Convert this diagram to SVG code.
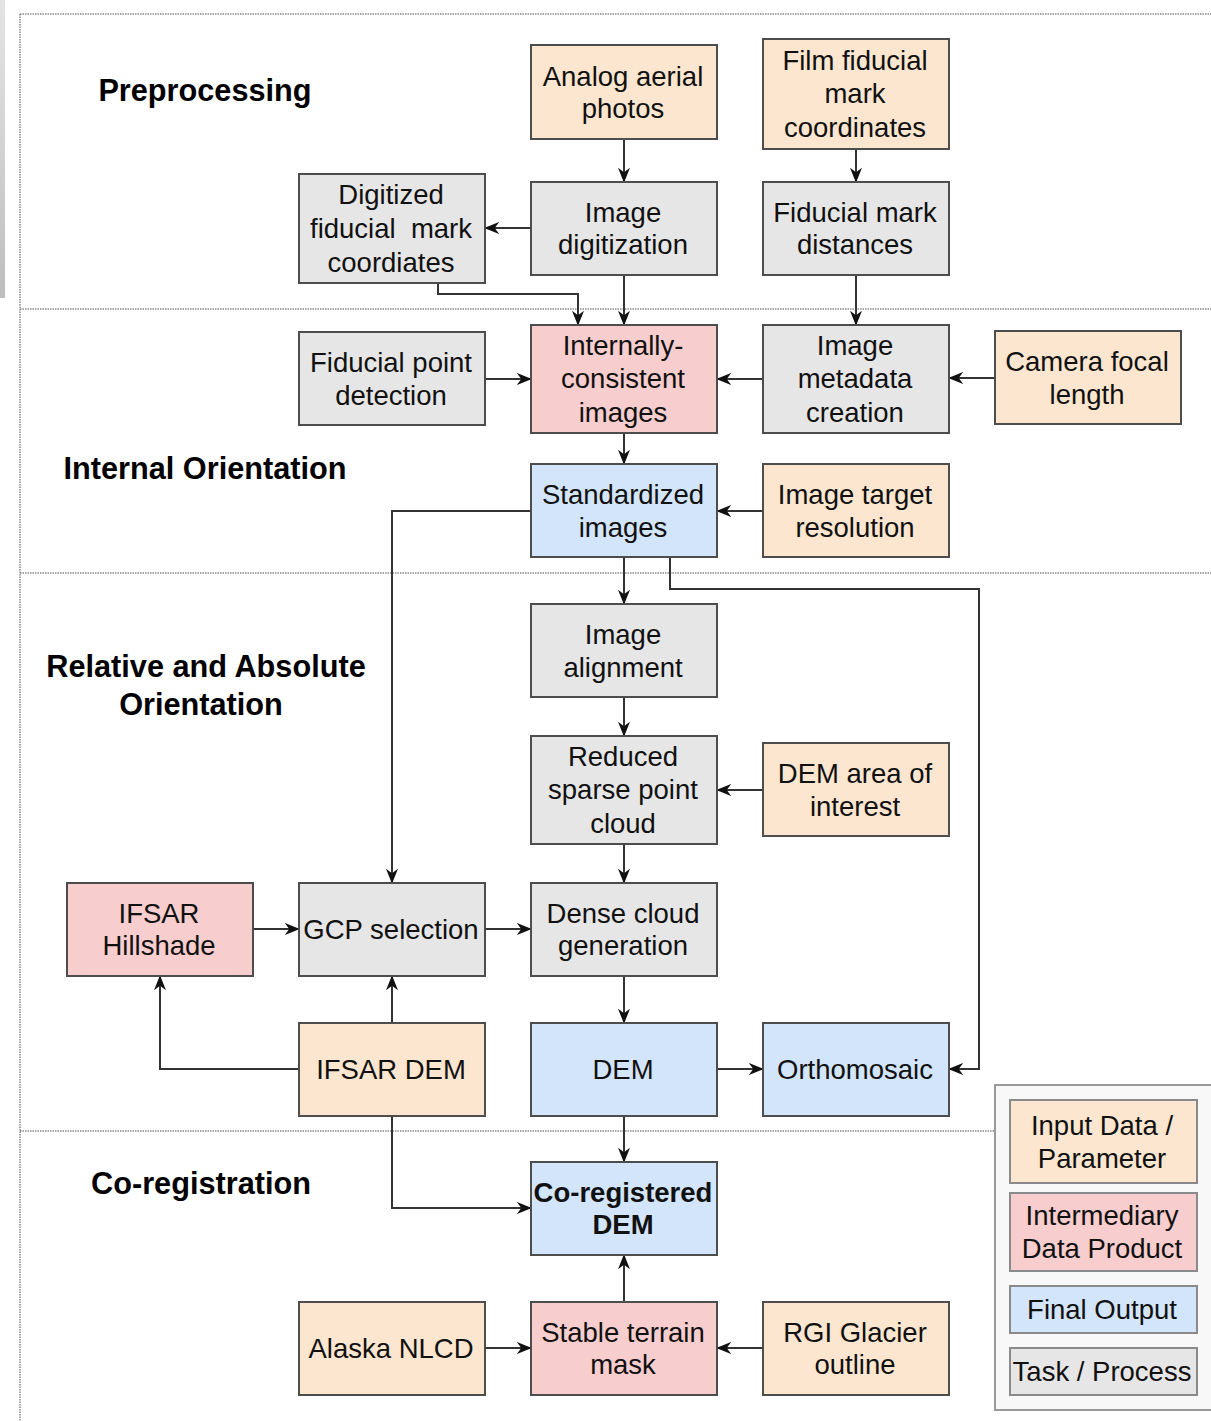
<svg xmlns="http://www.w3.org/2000/svg" width="1211" height="1421" viewBox="0 0 1211 1421">
<defs>
<marker id="arr" viewBox="0 0 10 10" refX="9.5" refY="5" markerWidth="15" markerHeight="15" markerUnits="userSpaceOnUse" orient="auto">
<path d="M0,1 L10,5 L0,9 L3,5 z" fill="#111"/>
</marker>
<linearGradient id="strip" x1="0" y1="0" x2="0" y2="1">
<stop offset="0" stop-color="#e4e4e4"/>
<stop offset="0.5" stop-color="#d2d2d2"/>
<stop offset="1" stop-color="#bdbdbd"/>
</linearGradient>
</defs>
<style>
.n{stroke:#4d4d4d;stroke-width:2}
.in{fill:#fce6cf}
.im{fill:#f8cdcd}
.fo{fill:#d3e5fb}
.tp{fill:#e6e6e6}
.t{font-family:"Liberation Sans",Arial,Helvetica,sans-serif;font-size:27.5px;fill:#111;text-anchor:middle}
.b{font-weight:bold}
.h{font-family:"Liberation Sans",Arial,Helvetica,sans-serif;font-size:30.7px;font-weight:bold;fill:#000;text-anchor:middle}
.d{stroke:#8a8a8a;stroke-width:1.5;stroke-dasharray:1.5 1;fill:none}
.c{stroke:#333;stroke-width:2;fill:none;marker-end:url(#arr)}
.lg{stroke:#8a8a8a;stroke-width:2}
</style>
<rect x="0" y="0" width="1211" height="1421" fill="#fff"/>
<rect x="0" y="0" width="5" height="298" fill="url(#strip)"/>
<g id="frame">
<path class="d" d="M20,14 H1211 M20,14 V1421 M20,309 H1211 M20,573 H1211 M20,1131 H995"/>
</g>
<g id="headings">
<text class="h" x="205" y="101">Preprocessing</text>
<text class="h" x="205" y="479">Internal Orientation</text>
<text class="h" x="206" y="677">Relative and Absolute</text>
<text class="h" x="201" y="715">Orientation</text>
<text class="h" x="201" y="1194">Co-registration</text>
</g>
<g id="connectors">
<path class="c" d="M624,139 V182"/>
<path class="c" d="M856,149 V182"/>
<path class="c" d="M531,228 H485"/>
<path class="c" d="M624,275 V325"/>
<path class="c" d="M438,283 V294 H578 V325"/>
<path class="c" d="M856,275 V325"/>
<path class="c" d="M485,379 H531"/>
<path class="c" d="M763,379 H717"/>
<path class="c" d="M995,378 H949"/>
<path class="c" d="M624,433 V464"/>
<path class="c" d="M763,511 H717"/>
<path class="c" d="M531,511 H392 V883"/>
<path class="c" d="M624,557 V604"/>
<path class="c" d="M670,557 V589 H979 V1069 H949"/>
<path class="c" d="M624,697 V736"/>
<path class="c" d="M763,790 H717"/>
<path class="c" d="M624,844 V883"/>
<path class="c" d="M253,929 H299"/>
<path class="c" d="M485,929 H531"/>
<path class="c" d="M392,1023 V976"/>
<path class="c" d="M299,1069 H160 V976"/>
<path class="c" d="M624,976 V1023"/>
<path class="c" d="M717,1069 H763"/>
<path class="c" d="M624,1116 V1162"/>
<path class="c" d="M392,1116 V1208 H531"/>
<path class="c" d="M624,1302 V1255"/>
<path class="c" d="M485,1348 H531"/>
<path class="c" d="M763,1348 H717"/>
</g>
<g id="analog-aerial-photos">
<rect class="n in" x="531" y="45" width="186" height="94"/>
<text class="t" x="623" y="85.5">Analog aerial</text>
<text class="t" x="623" y="117.5">photos</text>
</g>
<g id="film-fiducial-mark-coordinates">
<rect class="n in" x="763" y="39" width="186" height="110"/>
<text class="t" x="855" y="69.5">Film fiducial</text>
<text class="t" x="855" y="102.5">mark</text>
<text class="t" x="855" y="136.5">coordinates</text>
</g>
<g id="digitized-fiducial-mark-coordinates">
<rect class="n tp" x="299" y="174" width="186" height="109"/>
<text class="t" x="391" y="203.5">Digitized</text>
<text class="t" x="391" y="237.5" style="white-space:pre">fiducial  mark</text>
<text class="t" x="391" y="271.5">coordiates</text>
</g>
<g id="image-digitization">
<rect class="n tp" x="531" y="182" width="186" height="93"/>
<text class="t" x="623" y="221.5">Image</text>
<text class="t" x="623" y="253.5">digitization</text>
</g>
<g id="fiducial-mark-distances">
<rect class="n tp" x="763" y="182" width="186" height="93"/>
<text class="t" x="855" y="221.5">Fiducial mark</text>
<text class="t" x="855" y="253.5">distances</text>
</g>
<g id="fiducial-point-detection">
<rect class="n tp" x="299" y="332" width="186" height="93"/>
<text class="t" x="391" y="371.5">Fiducial point</text>
<text class="t" x="391" y="404.5">detection</text>
</g>
<g id="internally-consistent-images">
<rect class="n im" x="531" y="325" width="186" height="108"/>
<text class="t" x="623" y="354.5">Internally-</text>
<text class="t" x="623" y="387.5">consistent</text>
<text class="t" x="623" y="421.5">images</text>
</g>
<g id="image-metadata-creation">
<rect class="n tp" x="763" y="325" width="186" height="108"/>
<text class="t" x="855" y="354.5">Image</text>
<text class="t" x="855" y="387.5">metadata</text>
<text class="t" x="855" y="421.5">creation</text>
</g>
<g id="camera-focal-length">
<rect class="n in" x="995" y="331" width="186" height="93"/>
<text class="t" x="1087" y="370.5">Camera focal</text>
<text class="t" x="1087" y="403.5">length</text>
</g>
<g id="standardized-images">
<rect class="n fo" x="531" y="464" width="186" height="93"/>
<text class="t" x="623" y="503.5">Standardized</text>
<text class="t" x="623" y="536.5">images</text>
</g>
<g id="image-target-resolution">
<rect class="n in" x="763" y="464" width="186" height="93"/>
<text class="t" x="855" y="503.5">Image target</text>
<text class="t" x="855" y="536.5">resolution</text>
</g>
<g id="image-alignment">
<rect class="n tp" x="531" y="604" width="186" height="93"/>
<text class="t" x="623" y="643.5">Image</text>
<text class="t" x="623" y="676.5">alignment</text>
</g>
<g id="reduced-sparse-point-cloud">
<rect class="n tp" x="531" y="736" width="186" height="108"/>
<text class="t" x="623" y="765.5">Reduced</text>
<text class="t" x="623" y="798.5">sparse point</text>
<text class="t" x="623" y="832.5">cloud</text>
</g>
<g id="dem-area-of-interest">
<rect class="n in" x="763" y="743" width="186" height="93"/>
<text class="t" x="855" y="782.5">DEM area of</text>
<text class="t" x="855" y="815.5">interest</text>
</g>
<g id="ifsar-hillshade">
<rect class="n im" x="67" y="883" width="186" height="93"/>
<text class="t" x="159" y="922.5">IFSAR</text>
<text class="t" x="159" y="954.5">Hillshade</text>
</g>
<g id="gcp-selection">
<rect class="n tp" x="299" y="883" width="186" height="93"/>
<text class="t" x="391" y="938.5">GCP selection</text>
</g>
<g id="dense-cloud-generation">
<rect class="n tp" x="531" y="883" width="186" height="93"/>
<text class="t" x="623" y="922.5">Dense cloud</text>
<text class="t" x="623" y="954.5">generation</text>
</g>
<g id="ifsar-dem">
<rect class="n in" x="299" y="1023" width="186" height="93"/>
<text class="t" x="391" y="1078.5">IFSAR DEM</text>
</g>
<g id="dem">
<rect class="n fo" x="531" y="1023" width="186" height="93"/>
<text class="t" x="623" y="1078.5">DEM</text>
</g>
<g id="orthomosaic">
<rect class="n fo" x="763" y="1023" width="186" height="93"/>
<text class="t" x="855" y="1078.5">Orthomosaic</text>
</g>
<g id="co-registered-dem">
<rect class="n fo" x="531" y="1162" width="186" height="93"/>
<text class="t b" x="623" y="1201.5">Co-registered</text>
<text class="t b" x="623" y="1233.5">DEM</text>
</g>
<g id="alaska-nlcd">
<rect class="n in" x="299" y="1302" width="186" height="93"/>
<text class="t" x="391" y="1357.5">Alaska NLCD</text>
</g>
<g id="stable-terrain-mask">
<rect class="n im" x="531" y="1302" width="186" height="93"/>
<text class="t" x="623" y="1341.5">Stable terrain</text>
<text class="t" x="623" y="1373.5">mask</text>
</g>
<g id="rgi-glacier-outline">
<rect class="n in" x="763" y="1302" width="186" height="93"/>
<text class="t" x="855" y="1341.5">RGI Glacier</text>
<text class="t" x="855" y="1373.5">outline</text>
</g>
<g id="legend">
<rect x="995" y="1085" width="220" height="325" fill="#f8f8f8" stroke="#9a9a9a" stroke-width="2"/>
<rect class="lg in" x="1010" y="1100" width="187" height="83"/>
<text class="t" x="1102" y="1134.5">Input Data /</text>
<text class="t" x="1102" y="1167.5">Parameter</text>
<rect class="lg im" x="1010" y="1193" width="187" height="78"/>
<text class="t" x="1102" y="1224.5">Intermediary</text>
<text class="t" x="1102" y="1257.5">Data Product</text>
<rect class="lg fo" x="1010" y="1286" width="187" height="47"/>
<text class="t" x="1102" y="1319">Final Output</text>
<rect class="lg tp" x="1010" y="1348" width="187" height="47"/>
<text class="t" x="1102" y="1381">Task / Process</text>
</g>
</svg>
